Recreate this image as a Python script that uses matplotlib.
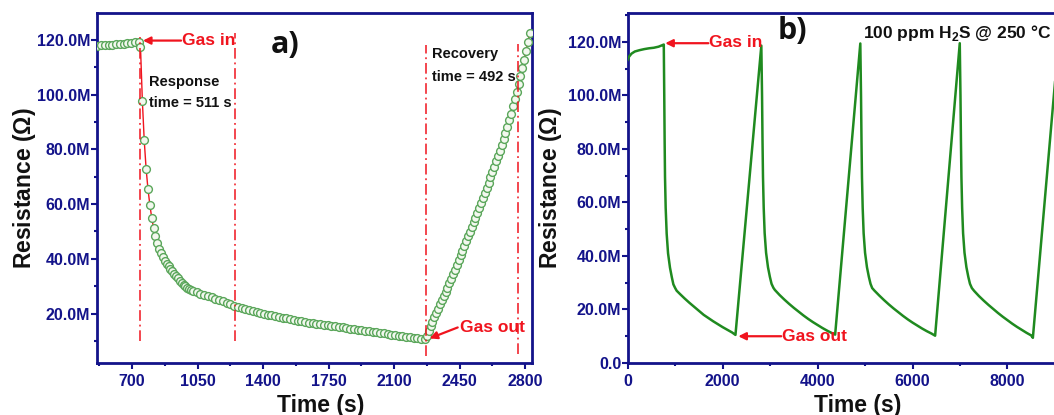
import matplotlib
matplotlib.use('Agg')
import matplotlib.pyplot as plt
from matplotlib.ticker import MultipleLocator, FuncFormatter

plt.rcParams['font.family'] = ['Liberation Sans', 'DejaVu Sans']
plt.rcParams['font.weight'] = 'bold'
plt.rcParams['axes.labelweight'] = 'bold'
plt.rcParams['mathtext.fontset'] = 'custom'
plt.rcParams['mathtext.rm'] = 'Liberation Sans'
plt.rcParams['mathtext.bf'] = 'Liberation Sans:bold'

# ---------------- Panel a data (time in s, resistance in MOhm) ----------------
base_t = [515, 535, 555, 575, 595, 615, 635, 655, 675, 695, 715, 735]
base_r = [117.9, 118.0, 118.1, 118.1, 118.3, 118.4, 118.6, 118.7, 118.9, 119.0, 119.1, 119.3]

drop_t = [745, 755, 765, 775, 785, 795, 805, 815, 825, 835, 845, 855, 865, 875, 885,
          895, 905, 915, 925, 935, 945, 955, 965, 975, 985, 995, 1005, 1015, 1025]
drop_r = [117.6, 97.8, 83.3, 73.0, 65.5, 59.8, 55.0, 51.3, 48.3, 45.6, 43.5, 42.0, 40.6, 39.3, 38.2,
          37.2, 36.3, 35.4, 34.5, 33.6, 32.8, 32.0, 31.3, 30.6, 30.0, 29.5, 29.0, 28.6, 28.3]

slow_t = [1045, 1065, 1085, 1105, 1125, 1145, 1165, 1185, 1205, 1225, 1245, 1265, 1285, 1305,
          1325, 1345, 1365, 1385, 1405, 1425, 1445, 1465, 1485, 1505, 1525, 1545, 1565, 1585,
          1605, 1625, 1645, 1665, 1685, 1705, 1725, 1745, 1765, 1785, 1805, 1825, 1845, 1865,
          1885, 1905, 1925, 1945, 1965, 1985, 2005, 2025, 2045, 2065, 2085, 2105, 2125, 2145,
          2165, 2185, 2205, 2225, 2245, 2265]
slow_r = [27.8, 27.3, 26.8, 26.4, 25.9, 25.4, 24.9, 24.4, 23.9, 23.4, 22.9, 22.5, 22.1, 21.7,
          21.3, 20.9, 20.6, 20.3, 19.9, 19.6, 19.3, 19.1, 18.8, 18.5, 18.2, 17.9, 17.7, 17.4,
          17.2, 16.9, 16.7, 16.5, 16.3, 16.1, 15.9, 15.7, 15.5, 15.3, 15.1, 14.9, 14.7, 14.5,
          14.3, 14.1, 13.9, 13.7, 13.5, 13.3, 13.1, 12.9, 12.7, 12.5, 12.3, 12.1, 11.9, 11.7,
          11.5, 11.3, 11.2, 11.0, 10.8, 10.6]

rise_t = [2275, 2285, 2295, 2305, 2315, 2325, 2335, 2345, 2355, 2365, 2375, 2385, 2395, 2405,
          2415, 2425, 2435, 2445, 2455, 2465, 2475, 2485, 2495, 2505, 2515, 2525, 2535, 2545,
          2555, 2565, 2575, 2585, 2595, 2605, 2615, 2625, 2635, 2645, 2655, 2665, 2675, 2685,
          2695, 2705, 2715, 2725, 2735, 2745, 2755, 2765, 2775, 2785, 2795, 2805, 2815, 2825]
rise_r = [11.8, 13.6, 15.4, 17.0, 18.6, 20.2, 21.8, 23.4, 25.0, 26.5, 27.9, 29.4, 31.0, 32.6,
          34.3, 36.0, 37.8, 39.5, 41.3, 43.0, 44.8, 46.5, 48.2, 49.9, 51.6, 53.3, 55.0, 56.8,
          58.6, 60.4, 62.2, 64.1, 66.0, 67.9, 69.8, 71.7, 73.6, 75.6, 77.5, 79.5, 81.6, 83.8,
          86.0, 88.3, 90.7, 93.1, 95.7, 98.3, 101.0, 103.8, 106.7, 109.7, 112.8, 116.0, 119.2, 122.4]

# marker lines (gas in, response end, gas out, recovery end)
vline_t = [740, 1251, 2270, 2762]
vline_lo = [10.0, 10.0, 4.6, 5.3]
vline_hi = [121.2, 122.4, 118.2, 118.4]

# ---------------- Panel b data ----------------
b_t = [0, 30, 80, 150, 250, 350, 450, 550, 650, 720, 760,
       770, 778, 786, 800, 821, 850, 891, 930, 962, 1000, 1032, 1100, 1200, 1300, 1400, 1500,
       1600, 1700, 1800, 1900, 2000, 2100, 2200, 2270,
       2815, 2830, 2840, 2850, 2865, 2885, 2915, 2955, 2995, 3030, 3069, 3100, 3200, 3300, 3400,
       3500, 3600, 3700, 3800, 3900, 4000, 4100, 4200, 4300, 4370,
       4900, 4915, 4925, 4935, 4950, 4970, 5000, 5040, 5080, 5115, 5150, 5200, 5300, 5400, 5500,
       5600, 5700, 5800, 5900, 6000, 6100, 6200, 6300, 6400, 6476,
       6995, 7010, 7020, 7030, 7045, 7065, 7095, 7135, 7175, 7210, 7250, 7300, 7400, 7500, 7600,
       7700, 7800, 7900, 8000, 8100, 8200, 8300, 8400, 8500, 8535,
       9070]
b_r = [113.3, 114.5, 115.6, 116.4, 116.9, 117.3, 117.6, 117.8, 118.2, 118.7, 119.0,
       100.0, 83.0, 69.5, 58.0, 48.3, 41.0, 35.6, 32.0, 29.4, 28.0, 27.0, 25.8, 24.1, 22.5, 21.0, 19.5,
       18.0, 16.8, 15.6, 14.5, 13.4, 12.4, 11.4, 10.5,
       118.6, 100.0, 83.0, 69.5, 58.0, 48.5, 41.2, 35.8, 32.2, 29.6, 28.1, 27.3, 25.4, 23.7, 22.1,
       20.6, 19.2, 17.8, 16.5, 15.3, 14.2, 13.1, 12.1, 11.2, 10.6,
       119.4, 100.0, 83.0, 69.5, 58.0, 48.5, 41.2, 35.8, 32.2, 29.6, 28.0, 27.0, 25.2, 23.5, 21.9,
       20.4, 19.0, 17.6, 16.3, 15.1, 14.0, 12.9, 11.9, 11.0, 10.2,
       119.5, 100.0, 83.0, 69.5, 58.0, 48.5, 41.2, 35.8, 32.2, 29.6, 28.0, 26.9, 25.0, 23.3, 21.7,
       20.2, 18.7, 17.3, 16.0, 14.7, 13.5, 12.4, 11.3, 10.3, 9.4,
       119.0]

NAVY = '#13138a'
RED = '#f0141e'
GREEN_LINE = '#1f8a1f'

fig = plt.figure(figsize=(10.54, 4.15), dpi=100)
axa = fig.add_axes([96.5 / 1054, 52 / 415, 435.5 / 1054, 349.5 / 415])
axb = fig.add_axes([627.7 / 1054, 52 / 415, 435.5 / 1054, 349.5 / 415])

fmt = FuncFormatter(lambda v, p: '0.0' if abs(v) < 1e-9 else f'{v:.1f}M')

for ax in (axa, axb):
    for s in ax.spines.values():
        s.set_color(NAVY)
        s.set_linewidth(2.0)
    ax.tick_params(which='both', direction='out', color=NAVY, width=1.5,
                   labelcolor=NAVY, labelsize=11.5)
    ax.tick_params(which='major', length=4)
    ax.tick_params(which='minor', length=2.5)
    ax.tick_params(axis='y', which='both', pad=0.5)
    ax.tick_params(axis='x', which='both', pad=4)
    ax.yaxis.set_major_locator(MultipleLocator(20))
    ax.yaxis.set_minor_locator(MultipleLocator(10))
    ax.yaxis.set_major_formatter(fmt)

# ---- panel a ----
all_t = base_t + drop_t + slow_t + rise_t
all_r = base_r + drop_r + slow_r + rise_r
axa.plot(all_t, all_r, color=RED, lw=1.0, zorder=2)
axa.plot(all_t, all_r, ls='none', marker='o', ms=5.6, mfc='#f3f8ef', mec='#5aa65a',
         mew=1.0, zorder=3)
axa.vlines(vline_t, vline_lo, vline_hi, colors=RED, lw=1.1,
           linestyles=[(0, (7, 2.5, 1.2, 2.5))], zorder=4)
axa.set_xlim(510, 2837)
axa.set_ylim(1.9, 129.7)
axa.xaxis.set_major_locator(MultipleLocator(350))
axa.xaxis.set_minor_locator(MultipleLocator(175))

axa.annotate('', xy=(758, 119.8), xytext=(962, 119.8),
             arrowprops=dict(arrowstyle='-|>', color=RED, lw=1.6, mutation_scale=11,
                             shrinkA=0, shrinkB=0), zorder=5)
axa.text(965, 120.0, 'Gas in', color=RED, fontsize=12.5, ha='left', va='center', zorder=5)
axa.annotate('', xy=(2290, 10.9), xytext=(2440, 14.9),
             arrowprops=dict(arrowstyle='-|>', color=RED, lw=1.6, mutation_scale=11,
                             shrinkA=0, shrinkB=0), zorder=5)
axa.text(2450, 14.9, 'Gas out', color=RED, fontsize=12.5, ha='left', va='center', zorder=5)
axa.text(792, 104.5, 'Response', color='#111111', fontsize=10.5, ha='left', va='center')
axa.text(792, 96.9, 'time = 511 s', color='#111111', fontsize=10.5, ha='left', va='center')
axa.text(2302, 114.9, 'Recovery', color='#111111', fontsize=10.5, ha='left', va='center')
axa.text(2302, 106.6, 'time = 492 s', color='#111111', fontsize=10.5, ha='left', va='center')
axa.text(1443, 118.0, 'a)', fontsize=22, family='Open Sans', fontweight='bold',
         color='#111111', ha='left', va='center')

axa.set_ylabel(r'Resistance ($\Omega$)', fontsize=16.5, color='#111111', fontweight='bold')
axa.yaxis.set_label_coords(-0.134, 0.5)
axa.set_xlabel('Time (s)', fontsize=16.5, color='#111111', fontweight='bold')
axa.xaxis.set_label_coords(0.515, -0.089)

# ---- panel b ----
axb.plot(b_t, b_r, color=GREEN_LINE, lw=1.8, zorder=3)
axb.set_xlim(0, 9174)
axb.set_ylim(0, 130.6)
axb.xaxis.set_major_locator(MultipleLocator(2000))
axb.xaxis.set_minor_locator(MultipleLocator(1000))

axb.annotate('', xy=(790, 119.5), xytext=(1700, 119.5),
             arrowprops=dict(arrowstyle='-|>', color=RED, lw=1.6, mutation_scale=11,
                             shrinkA=0, shrinkB=0), zorder=5)
axb.text(1713, 119.6, 'Gas in', color=RED, fontsize=12.5, ha='left', va='center', zorder=5)
axb.annotate('', xy=(2330, 10.0), xytext=(3235, 10.0),
             arrowprops=dict(arrowstyle='-|>', color=RED, lw=1.6, mutation_scale=11,
                             shrinkA=0, shrinkB=0), zorder=5)
axb.text(3245, 10.0, 'Gas out', color=RED, fontsize=12.5, ha='left', va='center', zorder=5)
axb.text(3168, 124.0, 'b)', fontsize=22, family='Open Sans', fontweight='bold',
         color='#111111', ha='left', va='center')
axb.text(4966, 123.4, r'100 ppm H$_{\mathbf{2}}$S @ 250 °C', fontsize=12.5, color='#111111',
         ha='left', va='center')

axb.set_ylabel(r'Resistance ($\Omega$)', fontsize=16.5, color='#111111', fontweight='bold')
axb.yaxis.set_label_coords(-0.146, 0.5)
axb.set_xlabel('Time (s)', fontsize=16.5, color='#111111', fontweight='bold')
axb.xaxis.set_label_coords(0.529, -0.089)

fig.savefig('out.png', dpi=100)
